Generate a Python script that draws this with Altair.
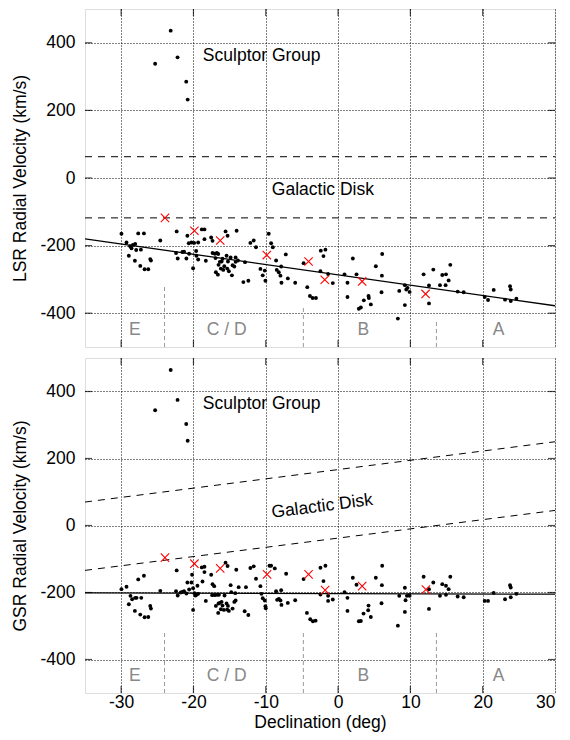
import altair as alt
import pandas as pd

FONT = "Liberation Sans"
FS = 17.5

# ---------------- data ----------------
# LSR panel: individual clouds (incl. Sculptor Group members)
lsr_dec = [-23.15, -22.2, -25.3, -21.0, -20.8,
           -29.96, -29.26, -28.75, -28.57, -28.38, -28.06, -28.94, -27.92, -27.27, -27.64,
           -26.85, -28.1, -27.36, -26.76, -26.25, -25.98, -25.88, -24.59, -22.32, -22.41,
           -22.18, -21.53, -21.3, -20.98, -20.84, -20.65, -20.6, -20.28, -20.05, -19.91,
           -19.63, -19.59, -19.35, -19.35, -18.85, -18.48, -18.48, -18.29, -17.55, -17.36,
           -17.36, -17.04, -16.95, -16.76, -16.58, -16.9, -16.62, -16.53, -16.35, -16.11,
           -15.98, -16.21, -15.88, -15.56, -15.28, -15.42, -15.74, -15.33, -15.1, -15.23,
           -14.86, -14.59, -14.68, -14.35, -14.17, -14.03, -14.17, -13.85, -12.87, -13.1,
           -12.41, -12.13, -11.67, -11.35, -10.74, -10.42, -10.14, -10.05, -9.59, -9.26,
           -9.03, -8.57, -8.48, -8.2, -7.97, -7.87, -7.83, -7.23, -6.95, -5.93,
           -4.77, -4.26, -3.89, -3.52, -3.06,
           -2.39, -1.75, -2.02, -2.44, -1.38, -0.73, 0.89, 1.3, 1.3, 2.04,
           2.55, 2.87, 3.15, 3.56, 4.21, 4.26, 4.53, 5.22, 6.1, 6.06,
           6.01, 8.46, 8.27, 9.24, 9.24, 9.43, 9.61, 9.89, 11.83, 12.57,
           12.57, 13.17, 14.09, 14.41, 14.92, 14.87, 15.29, 15.52, 16.54, 17.37,
           20.28, 20.74, 21.52, 23.09, 23.78, 23.88, 23.88, 24.66]
lsr_vel = [436, 357, 338, 285, 232,
           -165, -191, -202, -208, -198, -195, -230, -213, -212, -164,
           -164, -245, -260, -270, -270, -240, -244, -185, -158, -222,
           -238, -219, -218, -238, -171, -193, -224, -191, -267, -192,
           -216, -230, -191, -241, -152, -152, -181, -245, -176, -222,
           -186, -224, -237, -222, -225, -279, -286, -257, -248, -247,
           -239, -268, -272, -158, -171, -230, -261, -268, -276, -247,
           -235, -258, -288, -262, -235, -156, -248, -244, -249, -308,
           -304, -192, -185, -205, -269, -288, -274, -304, -165, -193,
           -205, -244, -272, -279, -289, -262, -310, -226, -297, -310,
           -252, -323, -349, -355, -355,
           -215, -212, -231, -276, -284, -311, -285, -310, -352, -238,
           -285, -387, -383, -362, -349, -355, -374, -261, -225, -289,
           -338, -334, -416, -317, -376, -330, -325, -337, -285, -318,
           -371, -271, -317, -287, -285, -317, -303, -257, -336, -338,
           -352, -361, -331, -360, -320, -330, -364, -357]
lsr_x_dec = [-23.94, -19.87, -16.3, -9.86, -4.08, -1.84, 3.33, 12.1]
lsr_x_vel = [-118, -156, -185, -228, -247, -301, -306, -343]

# GSR panel
gsr_dec = [-23.15, -22.2, -25.3, -21.0, -20.8,
           -29.96, -29.26, -28.71, -28.48, -28.06, -27.87, -27.22, -28.94, -27.64, -26.85,
           -28.1, -27.36, -26.76, -26.25, -25.98, -25.88, -24.59, -22.32, -22.41, -22.18,
           -21.76, -21.53, -21.3, -20.98, -20.84, -20.6, -20.28, -20.19, -20.05, -20.05,
           -19.87, -19.73, -19.59, -19.35, -19.45, -18.85, -18.48, -18.48, -18.75, -18.29,
           -17.55, -17.36, -17.13, -17.41, -17.04, -16.72, -16.48, -16.9, -16.58, -16.53,
           -16.35, -16.11, -15.98, -16.21, -15.79, -15.56, -15.28, -15.7, -15.42, -15.33,
           -15.1, -15.23, -14.86, -14.77, -14.59, -14.35, -14.17, -14.22, -14.08, -13.75,
           -12.92, -12.41, -12.74, -12.13, -11.67, -11.35, -10.74, -10.6, -10.42, -10.14,
           -10.05, -10.0, -9.49, -9.26, -8.75, -8.57, -8.43, -8.2, -7.97, -7.87,
           -7.83, -7.18, -6.95, -5.93, -4.77, -4.31, -3.85, -3.48, -3.11,
           -2.44, -1.75, -2.02, -2.44, -1.38, -1.38, -0.73, 0.89, 1.3, 1.3,
           2.04, 2.55, 2.87, 3.15, 3.52, 4.16, 4.21, 4.53, 5.22, 6.1,
           6.06, 6.01, 8.46, 8.27, 9.24, 9.24, 9.33, 9.52, 9.8, 9.89,
           11.83, 12.57, 12.57, 13.17, 14.09, 14.41, 14.92, 14.92, 15.29, 15.52,
           16.54, 17.37, 20.28, 20.74, 21.52, 23.09, 23.78, 23.88, 23.88, 24.66]
gsr_vel = [464, 375, 344, 303, 253,
           -190, -183, -210, -220, -216, -216, -216, -235, -161, -150,
           -255, -266, -274, -273, -240, -248, -195, -134, -196, -209,
           -200, -198, -196, -203, -170, -191, -170, -147, -187, -252,
           -202, -209, -207, -204, -180, -125, -123, -139, -167, -225,
           -147, -175, -181, -208, -208, -207, -207, -240, -261, -233,
           -231, -228, -239, -250, -252, -111, -121, -209, -233, -251,
           -255, -240, -178, -199, -248, -228, -224, -202, -132, -184,
           -256, -267, -184, -127, -122, -159, -181, -204, -217, -224,
           -241, -247, -120, -120, -128, -196, -222, -219, -224, -193,
           -237, -144, -231, -223, -160, -261, -280, -286, -284,
           -126, -120, -166, -206, -210, -225, -221, -199, -216, -255,
           -156, -177, -286, -285, -263, -253, -239, -273, -156, -120,
           -178, -232, -210, -299, -186, -258, -223, -210, -208, -210,
           -153, -190, -249, -170, -210, -175, -180, -207, -190, -153,
           -212, -214, -225, -225, -201, -220, -178, -185, -214, -204]
gsr_x_dec = [-23.94, -19.87, -16.3, -9.82, -4.08, -1.79, 3.33, 12.15]
gsr_x_vel = [-96, -114, -128, -146, -146, -193, -181, -191]

# fitted trends and Galactic-disk limits (values at the two ends of the declination range)
end_dec = [-35, 30]
lsr_fit = [-180, -378]
gsr_fit = [-201, -205]
lsr_disk_upper = [63, 63]
lsr_disk_lower = [-118, -118]
gsr_disk_upper = [70, 250]
gsr_disk_lower = [-134, 45]

# survey region boundaries and labels
region_dec = [-24, -4.8, 13.6]
lsr_region_top = [-315, -382, -421]
gsr_region_top = [-317, -317, -317]
region_names = ["E", "C / D", "B", "A"]
region_label_dec = [-28.1, -15.4, 3.5, 22.2]
region_label_vel = -450

x_ticks = [-30, -20, -10, 0, 10, 20, 30]
y_ticks = [-400, -200, 0, 200, 400]
x_domain = [-35, 30]
y_domain = [-500, 500]

W = 470
LABEL_EXPR = "toString(datum.value)"


def panel(dec, vel, xdec, xvel, fit, d_up, d_lo, reg_top, ytitle, bottom,
          sculpt_vel, disk_dec, disk_vel, disk_angle, height):
    xaxis = alt.Axis(values=x_ticks, grid=True, gridDash=[1, 2], gridColor="#000",
                     gridWidth=1, ticks=False, domain=False, labelExpr=LABEL_EXPR,
                     labels=bottom, labelFontSize=FS, labelFont=FONT, labelColor="black",
                     labelPadding=0, titleFontSize=FS, titleFont=FONT,
                     titleFontWeight="normal", titleColor="black", titlePadding=3,
                     title="Declination (deg)" if bottom else None)
    yaxis = alt.Axis(values=y_ticks, grid=True, gridDash=[1, 2], gridColor="#000",
                     gridWidth=1, ticks=False, domain=False, labelExpr=LABEL_EXPR,
                     labelFontSize=FS, labelFont=FONT, labelColor="black", labelPadding=10,
                     titleFontSize=FS, titleFont=FONT, titleFontWeight="normal",
                     titleColor="black", titlePadding=10, title=ytitle)
    X = alt.X("dec:Q", scale=alt.Scale(domain=x_domain, nice=False, zero=False), axis=xaxis)
    Y = alt.Y("vel:Q", scale=alt.Scale(domain=y_domain, nice=False, zero=False), axis=yaxis)
    x = alt.X("dec:Q")
    y = alt.Y("vel:Q")

    pts = pd.DataFrame({"dec": dec, "vel": vel})
    crs = pd.DataFrame({"dec": xdec, "vel": xvel})
    fit_df = pd.DataFrame({"dec": end_dec, "vel": fit})
    disk_df = pd.DataFrame({"dec": end_dec + end_dec, "vel": d_up + d_lo,
                            "g": ["u", "u", "l", "l"]})
    reg_df = pd.DataFrame({"dec": region_dec, "vel": [y_domain[0]] * 3, "vel2": reg_top})
    lab_df = pd.DataFrame({"dec": region_label_dec, "vel": [region_label_vel] * 4,
                           "t": region_names})

    # inward tick marks on all four sides
    tl = pd.DataFrame({"dec": [x_domain[0]] * len(y_ticks) + [x_domain[1]] * len(y_ticks),
                       "vel": y_ticks + y_ticks})
    xt = [v for v in x_ticks if x_domain[0] < v < x_domain[1]]
    tb = pd.DataFrame({"dec": xt + xt, "vel": [y_domain[0]] * len(xt) + [y_domain[1]] * len(xt)})

    base = alt.Chart(pts).mark_circle(size=15, color="black", opacity=1).encode(x=X, y=Y)
    fit_l = alt.Chart(fit_df).mark_line(color="black", strokeWidth=1.3, clip=True).encode(x=x, y=y)
    disk_l = alt.Chart(disk_df).mark_line(color="black", strokeWidth=1, strokeDash=[7, 6],
                                          clip=True).encode(x=x, y=y, detail="g:N")
    reg_l = alt.Chart(reg_df).mark_rule(color="#999", strokeWidth=1,
                                        strokeDash=[4, 3]).encode(x=x, y=y, y2="vel2:Q")
    labs = alt.Chart(lab_df).mark_text(font=FONT, fontSize=FS, color="#888",
                                       baseline="middle").encode(x=x, y=y, text="t:N")
    crs_l = alt.Chart(crs).mark_point(shape="M-1,-1L1,1M-1,1L1,-1", size=70, color="red",
                                      strokeWidth=1.1, filled=False, opacity=1).encode(x=x, y=y)
    sc = alt.Chart(pd.DataFrame({"dec": [-18.7], "vel": [sculpt_vel], "t": ["Sculptor Group"]})
                   ).mark_text(font=FONT, fontSize=FS, align="left", baseline="middle",
                               color="black").encode(x=x, y=y, text="t:N")
    gd = alt.Chart(pd.DataFrame({"dec": [disk_dec], "vel": [disk_vel], "t": ["Galactic Disk"]})
                   ).mark_text(font=FONT, fontSize=FS, align="center", baseline="middle",
                               color="black", angle=disk_angle).encode(x=x, y=y, text="t:N")
    tk1 = alt.Chart(tl).mark_tick(orient="horizontal", size=14, thickness=1.2, color="black",
                                  clip=True).encode(x=x, y=y)
    tk2 = alt.Chart(tb).mark_tick(orient="vertical", size=14, thickness=1.2, color="black",
                                  clip=True).encode(x=x, y=y)

    return alt.layer(base, reg_l, disk_l, fit_l, tk1, tk2, labs, sc, gd, crs_l
                     ).properties(width=W, height=height)


top = panel(lsr_dec, lsr_vel, lsr_x_dec, lsr_x_vel, lsr_fit, lsr_disk_upper, lsr_disk_lower,
            lsr_region_top, "LSR Radial Velocity (km/s)", False, 360, -2.1, -35, 0, 338)
bot = panel(gsr_dec, gsr_vel, gsr_x_dec, gsr_x_vel, gsr_fit, gsr_disk_upper, gsr_disk_lower,
            gsr_region_top, "GSR Radial Velocity (km/s)", True, 362, -2.2, 57, 352.7, 335)

chart = alt.vconcat(top, bot, spacing=9).properties(
    padding={"left": 3, "top": 0, "right": 5, "bottom": 5}
).configure_view(stroke="black", strokeWidth=1.8).configure(background="white")

chart.save("out.html", embed_options={"renderer": "svg", "actions": False})
